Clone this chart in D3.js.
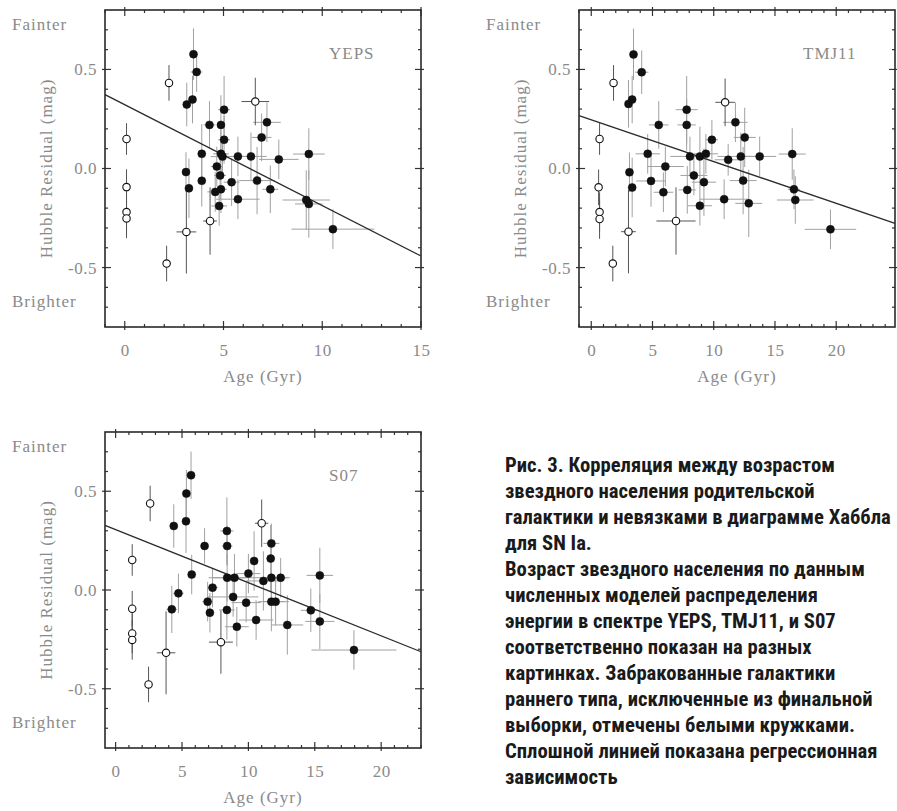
<!DOCTYPE html>
<html>
<head>
<meta charset="utf-8">
<script src="https://cdn.jsdelivr.net/npm/d3@7"></script>
<style>
  html, body { margin: 0; padding: 0; background: #fff; }
  svg { display: block; }
</style>
</head>
<body>
<svg id="chart" width="897" height="811"></svg>
<script>
// ---------- DATA ----------
// each point: [age (Gyr), Hubble residual (mag), age error, residual error]
const yepsKept = [
  [3.48, 0.577, 0.2, 0.13], [3.64, 0.487, 0.3, 0.10], [3.14, 0.323, 0.15, 0.11], [3.43, 0.348, 0.2, 0.12],
  [5.03, 0.297, 0.3, 0.17], [4.29, 0.220, 0.3, 0.12], [4.87, 0.220, 0.2, 0.15], [5.03, 0.145, 0.3, 0.12],
  [7.20, 0.233, 0.7, 0.10], [6.93, 0.157, 0.5, 0.12], [3.90, 0.074, 0.2, 0.15], [4.87, 0.074, 0.4, 0.12],
  [4.95, 0.060, 0.6, 0.10], [5.73, 0.061, 0.75, 0.10], [6.39, 0.061, 0.8, 0.12], [7.80, 0.046, 1.0, 0.10],
  [9.32, 0.073, 0.8, 0.13], [4.66, 0.010, 0.3, 0.10], [4.83, -0.035, 0.3, 0.12], [3.10, -0.018, 0.15, 0.10],
  [3.25, -0.100, 0.2, 0.15], [3.90, -0.062, 0.2, 0.13], [4.58, -0.118, 0.4, 0.10], [4.87, -0.105, 0.3, 0.12],
  [5.41, -0.069, 0.4, 0.12], [6.70, -0.061, 0.9, 0.17], [7.37, -0.105, 0.4, 0.12], [4.78, -0.189, 0.4, 0.10],
  [5.73, -0.155, 1.1, 0.10], [9.19, -0.159, 1.2, 0.15], [9.32, -0.179, 0.7, 0.17], [10.54, -0.306, 2.1, 0.10]
];
const yepsRejected = [
  [2.24, 0.432, 0.1, 0.09], [6.61, 0.338, 0.7, 0.12], [0.09, 0.149, 0.05, 0.08], [0.09, -0.094, 0.05, 0.09],
  [0.09, -0.220, 0.05, 0.10], [0.09, -0.252, 0.05, 0.10], [3.12, -0.320, 0.5, 0.21], [4.32, -0.265, 0.35, 0.17],
  [2.12, -0.480, 0.05, 0.09]
];
const tmjKept = [
  [3.45, 0.576, 0.3, 0.13], [4.12, 0.486, 0.55, 0.11], [3.04, 0.326, 0.2, 0.12], [3.34, 0.348, 0.3, 0.12],
  [7.79, 0.297, 0.9, 0.17], [5.51, 0.220, 0.8, 0.12], [7.79, 0.220, 0.75, 0.13], [11.77, 0.233, 1.0, 0.10],
  [12.53, 0.157, 0.9, 0.15], [9.85, 0.145, 0.5, 0.10], [4.61, 0.074, 1.0, 0.10], [8.06, 0.061, 1.6, 0.10],
  [8.87, 0.061, 0.7, 0.15], [9.36, 0.074, 1.0, 0.10], [11.18, 0.044, 1.1, 0.08], [12.21, 0.061, 1.9, 0.12],
  [13.75, 0.061, 1.35, 0.10], [16.41, 0.073, 1.1, 0.13], [6.05, 0.010, 1.5, 0.10], [3.12, -0.019, 0.3, 0.10],
  [3.34, -0.096, 0.3, 0.15], [4.88, -0.063, 1.2, 0.13], [5.89, -0.120, 0.8, 0.10], [8.38, -0.035, 1.1, 0.10],
  [7.84, -0.108, 0.7, 0.12], [9.20, -0.069, 1.0, 0.17], [12.40, -0.061, 1.1, 0.17], [8.87, -0.188, 1.0, 0.10],
  [10.85, -0.155, 2.0, 0.10], [12.86, -0.176, 1.1, 0.17], [16.55, -0.105, 0.5, 0.10], [16.66, -0.159, 1.5, 0.12],
  [19.53, -0.307, 2.1, 0.10]
];
const tmjRejected = [
  [1.82, 0.432, 0.2, 0.09], [10.93, 0.334, 0.8, 0.12], [0.68, 0.149, 0.1, 0.08], [0.60, -0.095, 0.1, 0.09],
  [0.68, -0.220, 0.1, 0.10], [0.68, -0.255, 0.1, 0.10], [3.04, -0.319, 0.6, 0.21], [6.92, -0.265, 1.6, 0.17],
  [1.76, -0.480, 0.1, 0.09]
];
const s07Kept = [
  [5.68, 0.581, 0.2, 0.12], [5.33, 0.488, 0.3, 0.12], [5.30, 0.348, 0.2, 0.16], [4.38, 0.324, 0.3, 0.11],
  [6.70, 0.223, 0.3, 0.09], [8.38, 0.299, 0.5, 0.17], [8.40, 0.223, 0.4, 0.10], [5.73, 0.078, 0.3, 0.10],
  [7.30, 0.012, 0.4, 0.10], [8.40, 0.062, 1.4, 0.12], [8.95, 0.062, 1.6, 0.12], [10.00, 0.083, 0.9, 0.10],
  [10.43, 0.147, 0.3, 0.15], [11.13, 0.046, 1.3, 0.15], [11.73, 0.236, 0.6, 0.10], [11.68, 0.159, 0.3, 0.17],
  [11.73, 0.062, 1.2, 0.10], [12.43, 0.062, 0.7, 0.10], [15.38, 0.074, 1.0, 0.14], [4.73, -0.017, 0.4, 0.10],
  [4.23, -0.098, 0.4, 0.12], [6.93, -0.059, 0.4, 0.10], [7.10, -0.115, 0.3, 0.10], [8.85, -0.035, 1.9, 0.10],
  [8.38, -0.101, 0.6, 0.15], [9.83, -0.064, 1.1, 0.10], [9.13, -0.186, 0.9, 0.10], [10.58, -0.152, 1.3, 0.10],
  [11.73, -0.059, 1.0, 0.15], [12.05, -0.059, 1.0, 0.12], [12.93, -0.177, 1.2, 0.15], [14.70, -0.103, 0.75, 0.11],
  [15.38, -0.159, 1.1, 0.14], [17.95, -0.304, 3.2, 0.10]
];
const s07Rejected = [
  [2.60, 0.438, 0.1, 0.09], [11.00, 0.338, 0.5, 0.12], [1.25, 0.152, 0.05, 0.08], [1.25, -0.095, 0.05, 0.09],
  [1.25, -0.220, 0.05, 0.10], [1.25, -0.253, 0.05, 0.10], [3.80, -0.318, 0.7, 0.21], [7.93, -0.264, 0.9, 0.16],
  [2.48, -0.478, 0.05, 0.09]
];
// regression lines: [intercept, slope]
const yepsFit = [0.322, -0.0509];
const tmjFit = [0.246, -0.0211];
const s07Fit = [0.306, -0.0269];

const modelNames = ["YEPS", "TMJ11", "S07"];
const ageDomains = [[-1, 15], [-1, 24.8], [-0.8, 23]];
const residualDomain = [-0.8, 0.8];
const yMajorTicks = [-0.5, 0, 0.5];
const yTitle = "Hubble Residual (mag)";
const xTitle = "Age (Gyr)";
const topNote = "Fainter";
const bottomNote = "Brighter";

const captionLines = [
  "Рис. 3. Корреляция между возрастом",
  "звездного населения родительской",
  "галактики и невязками в диаграмме Хаббла",
  "для SN Ia.",
  "Возраст звездного населения по данным",
  "численных моделей распределения",
  "энергии в спектре YEPS, TMJ11, и S07",
  "соответственно показан на разных",
  "картинках. Забракованные галактики",
  "раннего типа, исключенные из финальной",
  "выборки, отмечены белыми кружками.",
  "Сплошной линией показана регрессионная",
  "зависимость"
];

// ---------- LAYOUT ----------
const svg = d3.select("#chart");
svg.append("rect").attr("width", 897).attr("height", 811).attr("fill", "#fff");

const boxes = [
  { left: 105, top: 10, w: 316, h: 317 },
  { left: 579, top: 10, w: 316, h: 317 },
  { left: 105, top: 432, w: 316, h: 316 }
];
const panelData = [
  { kept: yepsKept, rejected: yepsRejected, fit: yepsFit },
  { kept: tmjKept, rejected: tmjRejected, fit: tmjFit },
  { kept: s07Kept, rejected: s07Rejected, fit: s07Fit }
];

const grayText = "#8a8a8a";
const serif = "'Liberation Serif', 'DejaVu Serif', serif";

boxes.forEach((b, i) => {
  const pd = panelData[i];
  const dom = ageDomains[i];
  const x = d3.scaleLinear().domain(dom).range([0, b.w]);
  const y = d3.scaleLinear().domain(residualDomain).range([b.h, 0]);
  const g = svg.append("g").attr("transform", `translate(${b.left},${b.top})`);

  const xMinor = d3.range(Math.ceil(dom[0]), Math.floor(dom[1]) + 1, 1);
  const xMajor = xMinor.filter(v => v % 5 === 0);
  const yMinor = d3.range(-7, 8).map(v => v / 10);

  // ticks (inward; major ones also poke outward) on all four sides
  const minorLen = 3, majorIn = 6, majorOut = 3;
  const tickG = g.append("g").attr("stroke", "#333").attr("stroke-width", 1.2);
  xMinor.forEach(v => {
    const big = v % 5 === 0;
    const len = big ? majorIn : minorLen;
    const out = big ? majorOut : 0;
    tickG.append("line").attr("x1", x(v)).attr("x2", x(v)).attr("y1", b.h + out).attr("y2", b.h - len);
    tickG.append("line").attr("x1", x(v)).attr("x2", x(v)).attr("y1", -out).attr("y2", len);
  });
  yMinor.forEach(v => {
    const big = yMajorTicks.some(t => Math.abs(t - v) < 1e-9);
    const len = big ? majorIn : minorLen;
    const out = big ? majorOut : 0;
    tickG.append("line").attr("y1", y(v)).attr("y2", y(v)).attr("x1", -out).attr("x2", len);
    tickG.append("line").attr("y1", y(v)).attr("y2", y(v)).attr("x1", b.w + out).attr("x2", b.w - len);
  });

  // labelled axes (labels only, via d3 axes)
  const xAxis = d3.axisBottom(x).tickValues(xMajor).tickSize(0).tickPadding(17).tickFormat(d3.format("d"));
  const gx = g.append("g").attr("transform", `translate(0,${b.h})`).call(xAxis);
  const yAxis = d3.axisLeft(y).tickValues(yMajorTicks).tickSize(0).tickPadding(8).tickFormat(d => d.toFixed(1));
  const gy = g.append("g").call(yAxis);
  [gx, gy].forEach(ax => {
    ax.select(".domain").remove();
    ax.selectAll("text").attr("font-family", serif).attr("font-size", 17)
      .attr("fill", grayText).attr("letter-spacing", "0.5px");
  });

  // error bars
  const errG = g.append("g").attr("fill", "none");
  const drawErr = (arr, color) => {
    arr.forEach(d => {
      const [a, r, ea, er] = d;
      const x0 = Math.max(dom[0], a - ea), x1 = Math.min(dom[1], a + ea);
      errG.append("line").attr("x1", x(x0)).attr("x2", x(x1)).attr("y1", y(r)).attr("y2", y(r))
        .attr("stroke", color).attr("stroke-width", 1);
      errG.append("line").attr("x1", x(a)).attr("x2", x(a)).attr("y1", y(r - er)).attr("y2", y(r + er))
        .attr("stroke", color).attr("stroke-width", 1);
    });
  };
  drawErr(pd.kept, "#a0a0a0");
  drawErr(pd.rejected, "#555");

  // regression line
  const fitFn = v => pd.fit[0] + pd.fit[1] * v;
  g.append("line")
    .attr("x1", x(dom[0])).attr("y1", y(fitFn(dom[0])))
    .attr("x2", x(dom[1])).attr("y2", y(fitFn(dom[1])))
    .attr("stroke", "#2a2a2a").attr("stroke-width", 1.3);

  // points
  g.append("g").selectAll("circle").data(pd.kept).join("circle")
    .attr("cx", d => x(d[0])).attr("cy", d => y(d[1])).attr("r", 4)
    .attr("fill", "#111").attr("stroke", "#111").attr("stroke-width", 0.5);
  g.append("g").selectAll("circle").data(pd.rejected).join("circle")
    .attr("cx", d => x(d[0])).attr("cy", d => y(d[1])).attr("r", 3.7)
    .attr("fill", "#fff").attr("stroke", "#111").attr("stroke-width", 1.1);

  // frame
  g.append("rect").attr("width", b.w).attr("height", b.h)
    .attr("fill", "none").attr("stroke", "#2a2a2a").attr("stroke-width", 1.6);

  // texts
  const txt = (s, tx, ty, anchor) => g.append("text").text(s).attr("x", tx).attr("y", ty)
    .attr("text-anchor", anchor || "start").attr("font-family", serif).attr("font-size", 17)
    .attr("fill", grayText).attr("letter-spacing", "1px");
  txt(topNote, -93, 20);
  txt(bottomNote, -93, b.h - 20);
  txt(modelNames[i], 224, 49);
  txt(xTitle, b.w / 2, b.h + 55, "middle");
  g.append("text").text(yTitle)
    .attr("transform", `translate(-53,${b.h / 2}) rotate(-90)`)
    .attr("text-anchor", "middle").attr("font-family", serif).attr("font-size", 17)
    .attr("fill", grayText).attr("letter-spacing", "1px");
});

// ---------- CAPTION ----------
const cap = svg.append("g").attr("transform", "translate(505,0)");
const capFont = "'Liberation Sans Narrow', 'Roboto Condensed', 'Noto Sans', sans-serif";
let fs = 20;
const capTexts = cap.selectAll("text").data(captionLines).join("text")
  .text(d => d)
  .attr("x", 0)
  .attr("y", (d, i) => 472 + i * 26)
  .attr("font-family", capFont)
  .attr("font-weight", "bold")
  .attr("font-size", fs)
  .attr("fill", "#1a1a1a");
// fit the widest line to the measured width in the reference
const widest = capTexts.nodes()[2].getComputedTextLength();
if (widest > 0) {
  fs = fs * 386 / widest;
  capTexts.attr("font-size", fs);
}
</script>
</body>
</html>
